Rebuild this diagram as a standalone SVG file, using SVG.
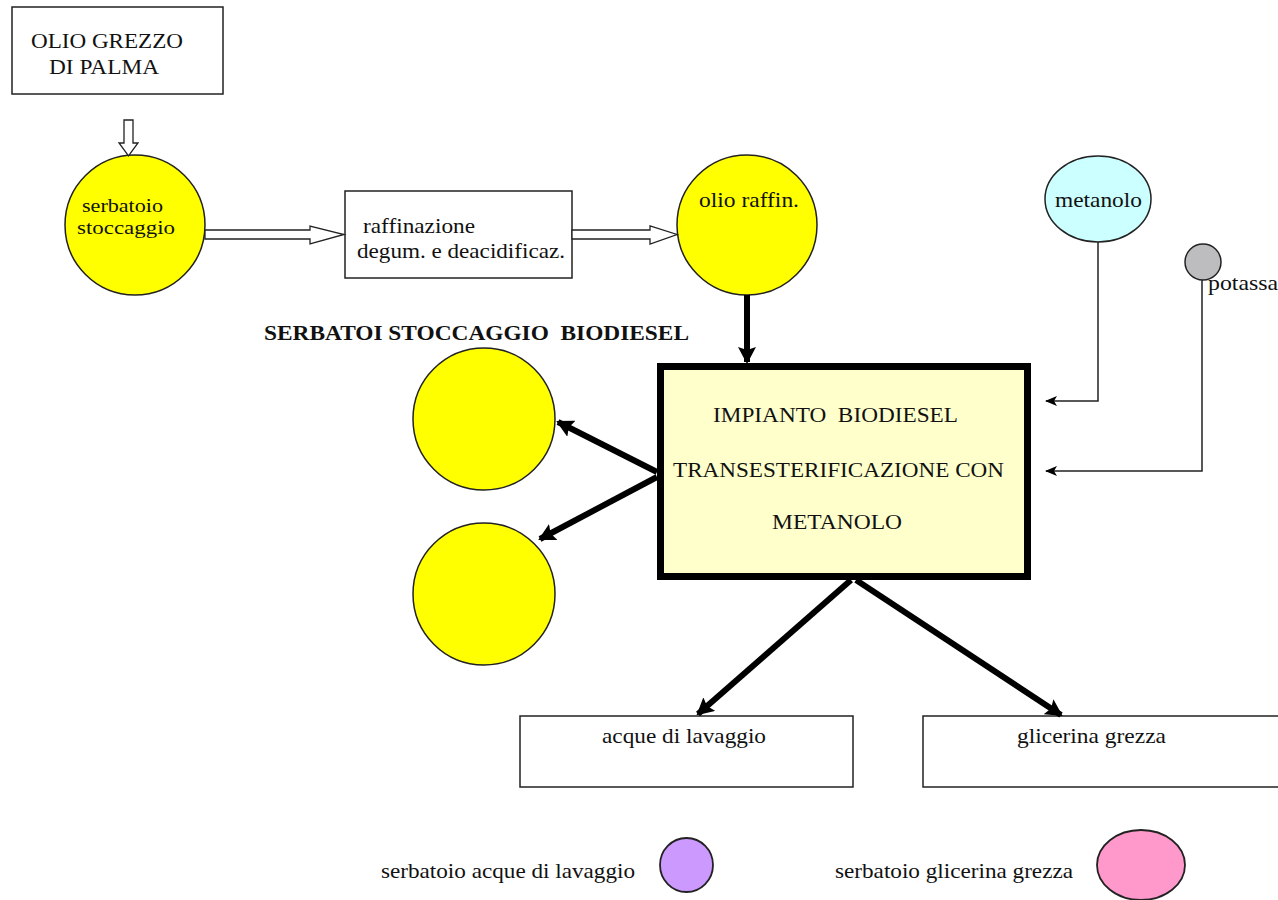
<svg xmlns="http://www.w3.org/2000/svg" width="1278" height="900" viewBox="0 0 1278 900" font-family="'Liberation Serif', 'DejaVu Serif', 'Times New Roman', serif">
<style>
text{font-family:'Liberation Serif','DejaVu Serif','Times New Roman',serif;fill:#111;font-size:21px}
.big{font-size:22px}
.sm{font-size:18px}
.bold{font-weight:bold;font-size:21px}
.box{fill:#fff;stroke:#222;stroke-width:1.5}
.tank{fill:#ffff00;stroke:#222;stroke-width:1.5}
.hollow{fill:#fff;stroke:#222;stroke-width:1.3}
.thick{stroke:#000;stroke-width:6;fill:none}
.thin{stroke:#222;stroke-width:1.5;fill:none}
</style>
<defs>
<marker id="ah" markerWidth="17" markerHeight="18" refX="15" refY="9" orient="auto" markerUnits="userSpaceOnUse">
<path d="M0,0 L17,9 L0,18 L3,9 Z" fill="#000"/>
</marker>
<marker id="ahs" markerWidth="12" markerHeight="10" refX="11" refY="5" orient="auto" markerUnits="userSpaceOnUse">
<path d="M0,0 L12,5 L0,10 L3,5 Z" fill="#000"/>
</marker>
</defs>
<rect width="1278" height="900" fill="#fff"/>

<g id="olio-grezzo">
<rect class="box" x="12" y="7" width="211" height="87"/>
<text class="big" x="31" y="48" textLength="152" lengthAdjust="spacingAndGlyphs">OLIO GREZZO</text>
<text class="big" x="49" y="74" textLength="110" lengthAdjust="spacingAndGlyphs">DI PALMA</text>
</g>

<g id="serbatoio-stoccaggio">
<circle class="tank" cx="135" cy="225" r="70"/>
<text class="sm" x="82" y="212" textLength="81" lengthAdjust="spacingAndGlyphs">serbatoio</text>
<text class="sm" x="77" y="234" textLength="98" lengthAdjust="spacingAndGlyphs">stoccaggio</text>
</g>

<g id="raffinazione">
<rect class="box" x="345" y="191" width="227" height="87"/>
<text x="363" y="233" textLength="112" lengthAdjust="spacingAndGlyphs">raffinazione</text>
<text x="357" y="258" textLength="208" lengthAdjust="spacingAndGlyphs">degum. e deacidificaz.</text>
</g>

<g id="olio-raffin">
<circle class="tank" cx="747" cy="225" r="70"/>
<text x="699" y="207" textLength="100" lengthAdjust="spacingAndGlyphs">olio raffin.</text>
</g>

<g id="metanolo">
<ellipse cx="1098" cy="199" rx="53" ry="43" fill="#ccffff" stroke="#222" stroke-width="1.5"/>
<text x="1055" y="207" textLength="87" lengthAdjust="spacingAndGlyphs">metanolo</text>
</g>

<g id="potassa">
<circle cx="1203" cy="262" r="18" fill="#bdbdc0" stroke="#222" stroke-width="1.5"/>
<text x="1208" y="290" textLength="70" lengthAdjust="spacingAndGlyphs">potassa</text>
</g>

<g id="impianto">
<rect x="660.5" y="366.5" width="367" height="210" fill="#ffffcc" stroke="#000" stroke-width="7"/>
<text class="big" x="713" y="422" textLength="245" lengthAdjust="spacingAndGlyphs" xml:space="preserve">IMPIANTO  BIODIESEL</text>
<text class="big" x="673" y="477" textLength="331" lengthAdjust="spacingAndGlyphs">TRANSESTERIFICAZIONE CON</text>
<text class="big" x="772" y="529" textLength="130" lengthAdjust="spacingAndGlyphs">METANOLO</text>
</g>

<g id="serbatoi-biodiesel">
<text class="bold" x="264" y="340" textLength="425" lengthAdjust="spacingAndGlyphs" xml:space="preserve">SERBATOI STOCCAGGIO  BIODIESEL</text>
<circle class="tank" cx="484" cy="419" r="71"/>
<circle class="tank" cx="484" cy="594" r="71"/>
</g>

<g id="acque">
<rect class="box" x="520" y="716" width="333" height="71"/>
<text x="602" y="743" textLength="164" lengthAdjust="spacingAndGlyphs">acque di lavaggio</text>
</g>

<g id="glicerina">
<rect class="box" x="923" y="716" width="370" height="71"/>
<text x="1017" y="743" textLength="149" lengthAdjust="spacingAndGlyphs">glicerina grezza</text>
</g>

<g id="serbatoio-acque">
<text x="381" y="878" textLength="254" lengthAdjust="spacingAndGlyphs">serbatoio acque di lavaggio</text>
<ellipse cx="686.5" cy="865" rx="26.5" ry="27" fill="#cc99ff" stroke="#222" stroke-width="1.8"/>
</g>

<g id="serbatoio-glicerina">
<text x="835" y="878" textLength="238" lengthAdjust="spacingAndGlyphs">serbatoio glicerina grezza</text>
<ellipse cx="1141" cy="865" rx="44" ry="35" fill="#ff99cc" stroke="#222" stroke-width="1.8"/>
</g>

<g id="connectors">
<path class="hollow" d="M124,120 L133,120 L133,143 L138,143 L128.5,156 L119,143 L124,143 Z"/>
<path class="hollow" d="M205,230 L310,230 L310,226 L344,234.5 L310,244 L310,239 L205,239 Z"/>
<path class="hollow" d="M572,230 L650,230 L650,226 L677,234.5 L650,244 L650,239 L572,239 Z"/>
<line class="thick" x1="747" y1="295" x2="747" y2="362" marker-end="url(#ah)"/>
<polyline class="thin" points="1098,242 1098,401 1046,401" marker-end="url(#ahs)"/>
<polyline class="thin" points="1202,280 1202,471 1046,471" marker-end="url(#ahs)"/>
<line class="thick" x1="657" y1="472" x2="558" y2="422" marker-end="url(#ah)"/>
<line class="thick" x1="657" y1="477" x2="540" y2="539" marker-end="url(#ah)"/>
<line class="thick" x1="851" y1="580" x2="698" y2="714" marker-end="url(#ah)"/>
<line class="thick" x1="856" y1="580" x2="1061" y2="715" marker-end="url(#ah)"/>
</g>
</svg>
